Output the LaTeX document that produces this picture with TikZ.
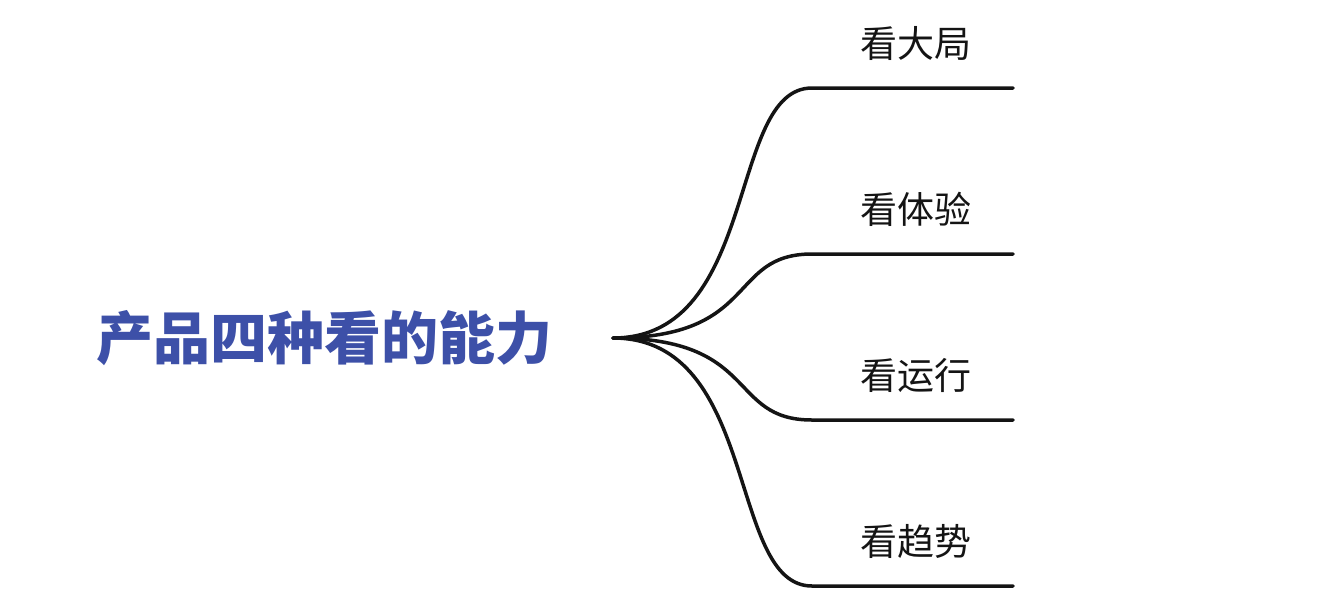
\documentclass[tikz,border=0pt]{standalone}
\usepackage{fontspec}
\newfontfamily\cjk{Noto Sans CJK SC}
\definecolor{rootblue}{RGB}{61,80,168}
\definecolor{ink}{RGB}{20,20,20}
\tikzset{
  rootlabel/.style={font=\cjk\bfseries\fontsize{57}{60}\selectfont, text=rootblue, inner sep=0pt},
  leaflabel/.style={font=\cjk\fontsize{37}{40}\selectfont, text=ink, inner sep=0pt},
  branch/.style={draw=ink, line width=3.5pt, line cap=round},
}
\begin{document}
\begin{tikzpicture}[x=1pt,y=-1pt]
\useasboundingbox[fill=white] (0,0) rectangle (1336,606);
\node[rootlabel] (root) at (324,338) {产品四种看的能力};
\coordinate (o) at (613,338);
\foreach \i/\y/\ly/\t in {1/88/43/看大局, 2/254/209/看体验, 3/420/375/看运行, 4/586/541/看趋势}{
  \coordinate (b\i) at (812,\y);
  \coordinate (e\i) at (1013,\y);
  \node[leaflabel] (l\i) at (916,\ly) {\t};
  \draw[branch] (o) .. controls (760,338) and (727,\y) .. (b\i) -- (e\i);
}
\end{tikzpicture}
\end{document}
